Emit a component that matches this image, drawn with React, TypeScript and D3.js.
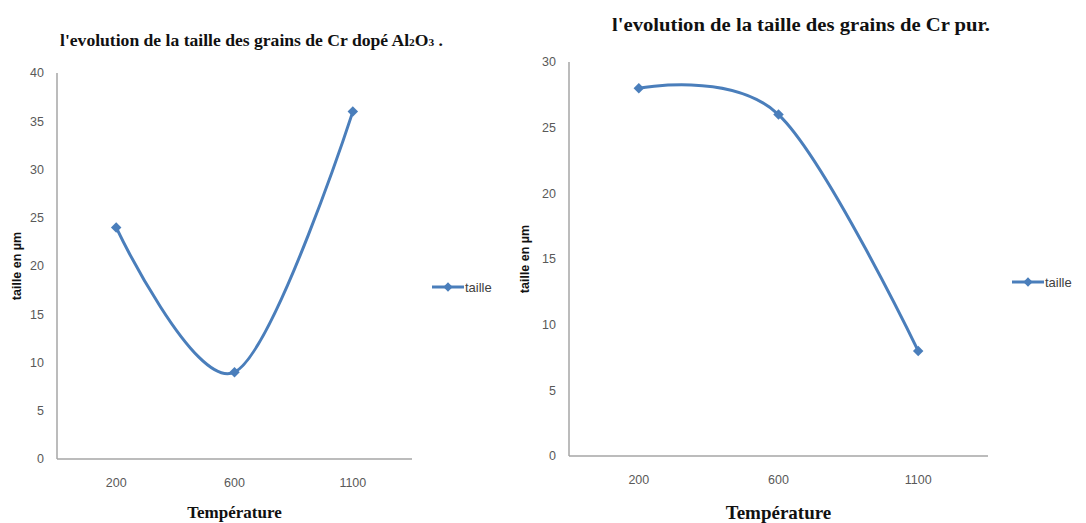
import React from "react";
import * as d3 from "d3";

const categories = ["200", "600", "1100"];
const dopedValues = [24, 9, 36];
const pureValues = [28, 26, 8];
const dopedTicks = [0, 5, 10, 15, 20, 25, 30, 35, 40];
const pureTicks = [0, 5, 10, 15, 20, 25, 30];
const seriesName = "taille";
const yTitle = "taille en µm";
const xTitle = "Température";

const LINE = "#4a7ebb";
const AXIS = "#a6a6a6";
const TICK = "#595959";

type ChartProps = {
  values: number[];
  ticks: number[];
  x0: number;
  x1: number;
  y0: number;
  y1: number;
  legendX: number;
  legendY: number;
  yTitleX: number;
  xTitleSize: number;
  xTitleY: number;
};

function Chart(p: ChartProps) {
  const x = d3.scaleBand<string>().domain(categories).range([p.x0, p.x1]);
  const y = d3
    .scaleLinear()
    .domain([0, d3.max(p.ticks) as number])
    .range([p.y0, p.y1]);
  const pts: [number, number][] = p.values.map((v, i) => [
    (x(categories[i]) as number) + x.bandwidth() / 2,
    y(v),
  ]);
  const line = d3.line().curve(d3.curveCardinal.tension(0))(pts) as string;
  const diamond = d3.symbol().type(d3.symbolDiamond2).size(70)() as string;
  const legendDiamond = d3.symbol().type(d3.symbolDiamond2).size(55)() as string;
  return (
    <g>
      <line x1={p.x0} x2={p.x0} y1={p.y1} y2={p.y0} stroke={AXIS} strokeWidth={1.5} />
      <line x1={p.x0} x2={p.x1} y1={p.y0} y2={p.y0} stroke={AXIS} strokeWidth={1.5} />
      {p.ticks.map((t) => (
        <text
          key={t}
          x={p.x0 - 13}
          y={y(t)}
          dy="0.35em"
          textAnchor="end"
          fontFamily="Liberation Sans, Arial, sans-serif"
          fontSize={12.5}
          fill={TICK}
        >
          {t}
        </text>
      ))}
      {categories.map((c) => (
        <text
          key={c}
          x={(x(c) as number) + x.bandwidth() / 2}
          y={p.y0 + 28}
          textAnchor="middle"
          fontFamily="Liberation Sans, Arial, sans-serif"
          fontSize={12.5}
          fill={TICK}
        >
          {c}
        </text>
      ))}
      <path d={line} fill="none" stroke={LINE} strokeWidth={3} strokeLinecap="round" />
      {pts.map((pt, i) => (
        <path key={i} d={diamond} transform={`translate(${pt[0]},${pt[1]})`} fill={LINE} />
      ))}
      <line
        x1={p.legendX}
        x2={p.legendX + 32}
        y1={p.legendY}
        y2={p.legendY}
        stroke={LINE}
        strokeWidth={3}
      />
      <path d={legendDiamond} transform={`translate(${p.legendX + 16},${p.legendY})`} fill={LINE} />
      <text
        x={p.legendX + 33}
        y={p.legendY}
        dy="0.35em"
        fontFamily="Liberation Sans, Arial, sans-serif"
        fontSize={13}
        fill="#404040"
      >
        {seriesName}
      </text>
      <text
        transform={`translate(${p.yTitleX},${(p.y0 + p.y1) / 2}) rotate(-90)`}
        textAnchor="middle"
        dy="0.35em"
        fontFamily="Liberation Sans, Arial, sans-serif"
        fontWeight="bold"
        fontSize={12.5}
        fill="#111"
      >
        {yTitle}
      </text>
      <text
        x={(p.x0 + p.x1) / 2}
        y={p.xTitleY}
        textAnchor="middle"
        fontFamily="Liberation Serif, Times New Roman, serif"
        fontWeight="bold"
        fontSize={p.xTitleSize}
        fill="#111"
      >
        {xTitle}
      </text>
    </g>
  );
}

export default function App() {
  return (
    <svg
      width={1086}
      height={523}
      style={{ position: "absolute", left: 0, top: 0, background: "#fff" }}
    >
      <rect width={1086} height={523} fill="#fff" />
      <text
        x={60}
        y={46}
        fontFamily="Liberation Serif, Times New Roman, serif"
        fontWeight="bold"
        fontSize={17}
        fill="#111"
        textLength={383}
        lengthAdjust="spacingAndGlyphs"
      >
        l'evolution  de la taille des grains  de Cr dopé Al
        <tspan fontSize={11}>2</tspan>
        O<tspan fontSize={11}>3</tspan> .
      </text>
      <text
        x={612}
        y={31}
        fontFamily="Liberation Serif, Times New Roman, serif"
        fontWeight="bold"
        fontSize={18}
        fill="#111"
        textLength={378}
        lengthAdjust="spacingAndGlyphs"
      >
        l'evolution  de la taille des grains  de Cr pur.
      </text>
      <Chart
        values={dopedValues}
        ticks={dopedTicks}
        x0={57}
        x1={412}
        y0={459}
        y1={73}
        legendX={432}
        legendY={287}
        yTitleX={17}
        xTitleSize={17}
        xTitleY={518}
      />
      <Chart
        values={pureValues}
        ticks={pureTicks}
        x0={569}
        x1={988}
        y0={456}
        y1={62}
        legendX={1012}
        legendY={282}
        yTitleX={525}
        xTitleSize={19}
        xTitleY={519}
      />
    </svg>
  );
}
